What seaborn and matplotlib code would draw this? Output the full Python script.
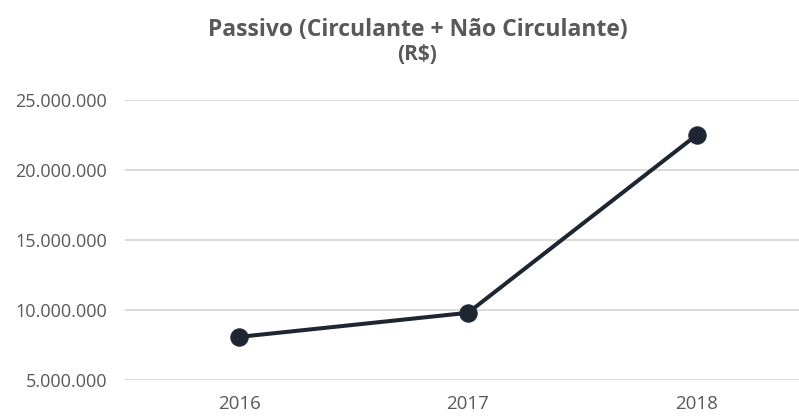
import matplotlib
matplotlib.use("Agg")
import matplotlib.pyplot as plt
import seaborn as sns
import pandas as pd
from matplotlib.ticker import FuncFormatter

years = ["2016", "2017", "2018"]
passivo = [8080000, 9800000, 22500000]
yticks = [5000000, 10000000, 15000000, 20000000, 25000000]

sns.set_theme(style="white")
plt.rcParams['font.family'] = ['Open Sans', 'DejaVu Sans']

df = pd.DataFrame({"ano": years, "valor": passivo})

fig = plt.figure(figsize=(7.99, 4.17), dpi=100)
ax = fig.add_axes([125/799, (417-380)/417, 1 - 125/799, (380-100)/417])

line_color = "#1f2633"
sns.lineplot(data=df, x="ano", y="valor", ax=ax, color=line_color, linewidth=2.9,
             marker="o", markersize=12.5, markeredgecolor=line_color,
             markerfacecolor=line_color, sort=False)

ax.set_xlim(-0.5, 2 + (799 - 697) / 228)
ax.set_ylim(yticks[0], yticks[-1])
ax.set_yticks(yticks)
ax.yaxis.set_major_formatter(FuncFormatter(lambda v, p: f"{int(v):,}".replace(",", ".")))
ax.grid(axis="y", color="#d9d9d9", linewidth=1.3)
ax.grid(axis="x", visible=False)
for s in ax.spines.values():
    s.set_visible(False)
ax.set_xlabel("")
ax.set_ylabel("")
ax.tick_params(axis="both", length=0, labelcolor="#595959", labelsize=13)
ax.tick_params(axis="y", pad=13)
ax.tick_params(axis="x", pad=10.5, labelsize=13.5)
for lab in ax.get_xticklabels() + ax.get_yticklabels():
    lab.set_clip_on(False)

fig.text(418/799, 1 - 30/417, "Passivo (Circulante + Não Circulante)", ha="center", va="center",
         fontsize=16.5, fontweight="bold", color="#595959")
fig.text(417/799, 1 - 55/417, "(R$)", ha="center", va="center",
         fontsize=15, fontweight="bold", color="#595959")

fig.savefig("out.png", dpi=100, facecolor="white")
